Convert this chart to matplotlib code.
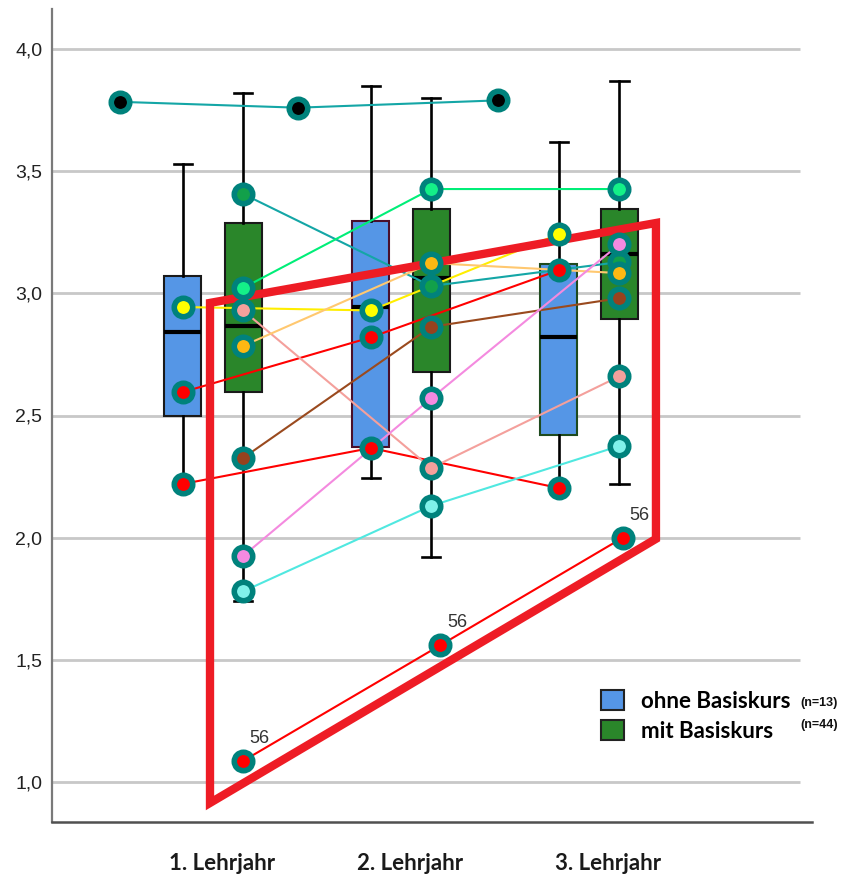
import matplotlib.pyplot as plt
from matplotlib.patches import Patch, Polygon

# Box statistics per year: (whislo, q1, median, q3, whishi)
years = ['1. Lehrjahr', '2. Lehrjahr', '3. Lehrjahr']
ohne_stats = [(2.22, 2.50, 2.842, 3.071, 3.53),
              (2.244, 2.371, 2.944, 3.296, 3.85),
              (2.20, 2.42, 2.82, 3.12, 3.62)]
mit_stats = [(1.74, 2.596, 2.868, 3.29, 3.82),
             (1.92, 2.68, 3.063, 3.345, 3.80),
             (2.22, 2.895, 3.16, 3.345, 3.87)]

# Individual learners over the three years
ohne_yellow = [2.944, 2.93, 3.243]
ohne_red_a = [2.596, 2.82, 3.095]
ohne_red_b = [2.22, 2.367, 2.203]

mit_teal = [3.407, 3.03, 3.128]
mit_lime = [3.022, 3.427, 3.427]
mit_salmon = [2.93, 2.285, 2.66]
mit_orange = [2.785, 3.124, 3.083]
mit_brown = [2.326, 2.863, 2.98]
mit_violet = [1.925, 2.57, 3.20]
mit_cyan = [1.78, 2.13, 2.375]
case56 = [1.086, 1.56, 2.0]
case56_x = [1.16, 2.21, 3.18]

top_case = [3.784, 3.76, 3.79]
top_case_x = [0.505, 1.452, 2.516]

# Outline around the rising group
frame_x = [0.984, 0.984, 3.356, 3.356]
frame_y = [2.961, 0.914, 1.995, 3.288]

blue = '#5596E6'
green = '#2A862A'
teal = '#00827C'

fig = plt.figure(figsize=(8.46, 8.77), dpi=100)
ax = fig.add_axes([52 / 846, 55 / 877, 760 / 846, 813 / 877])
ax.set_xlim(0.1436, 4.186)
ax.set_ylim(0.836, 4.164)

yt = [1.0, 1.5, 2.0, 2.5, 3.0, 3.5, 4.0]
ax.hlines(yt, 0.1436, 4.12, color='#C8C8C8', lw=2, zorder=0)
ax.set_yticks(yt)
ax.set_yticklabels([f'{v:.1f}'.replace('.', ',') for v in yt],
                   family='Liberation Sans', fontsize=14, color='#222222')
ax.tick_params(axis='y', length=0, pad=7)

for s in ['top', 'right']:
    ax.spines[s].set_visible(False)
ax.spines['left'].set_color('#7A7A7A')
ax.spines['left'].set_linewidth(1.6)
ax.spines['bottom'].set_color('#505050')
ax.spines['bottom'].set_linewidth(1.8)

d = 0.16
pos_ohne = [i + 1 - d for i in range(3)]
pos_mit = [i + 1 + d for i in range(3)]


def to_bxp(stats):
    return [dict(whislo=a, q1=b, med=c, q3=e, whishi=f) for a, b, c, e, f in stats]


common = dict(widths=0.197, patch_artist=True, showfliers=False,
              medianprops=dict(color='black', lw=3),
              whiskerprops=dict(color='black', lw=1.9),
              capprops=dict(color='black', lw=1.9),
              capwidths=0.1, manage_ticks=False)
b1 = ax.bxp(to_bxp(ohne_stats), positions=pos_ohne,
            boxprops=dict(facecolor=blue, edgecolor='#1a1a1a', lw=1.5), **common)
b2 = ax.bxp(to_bxp(mit_stats), positions=pos_mit,
            boxprops=dict(facecolor=green, edgecolor='#1a1a1a', lw=1.5), **common)
b1['boxes'][1].set_edgecolor('#4A0F2A')
b1['boxes'][2].set_edgecolor('#1E4A1E')
for k in b1:
    for art in b1[k] + b2[k]:
        art.set_zorder(2)

ax.set_xticks([1.05, 2.05, 3.10])
ax.set_xticklabels(years, family='Lato', fontweight='bold', fontsize=16, color='#1a1a1a')
ax.tick_params(axis='x', length=0, pad=22)

series = [
    (pos_ohne, ohne_yellow, '#FFEE00', '#FFFF00'),
    (pos_ohne, ohne_red_a, '#FF0000', '#FF0000'),
    (pos_ohne, ohne_red_b, '#FF0000', '#FF0000'),
    (pos_mit, mit_teal, '#14A6A6', '#12A04A'),
    (pos_mit, mit_lime, '#00EE78', '#14F088'),
    (pos_mit, mit_salmon, '#F4A09C', '#F4A09C'),
    (pos_mit, mit_orange, '#FFC870', '#FDB813'),
    (pos_mit, mit_brown, '#9A4A1E', '#96421E'),
    (pos_mit, mit_violet, '#F48ADF', '#F48AE0'),
    (pos_mit, mit_cyan, '#50E8E0', '#80F2EA'),
    (case56_x, case56, '#FF0000', '#FF0000'),
    (top_case_x, top_case, '#14A6A6', '#000000'),
]

for xs, ys, lc, mc in series:
    ax.plot(xs, ys, color=lc, lw=1.5, zorder=3)

ax.add_patch(Polygon(list(zip(frame_x, frame_y)), closed=True, fill=False,
                     edgecolor='#EE1C25', lw=6, joinstyle='miter', zorder=4))

for xs, ys, lc, mc in series:
    ax.plot(xs, ys, ls='none', marker='o', ms=13.3, mew=4, mec=teal, mfc=mc, zorder=5)

for x, y in zip(case56_x, case56):
    ax.annotate('56', (x, y), xytext=(12, 16), textcoords='offset points',
                ha='center', va='center', fontsize=13, family='Liberation Sans',
                color='#333333', zorder=6)

handles = [Patch(facecolor=blue, edgecolor='#222222', lw=1.5),
           Patch(facecolor=green, edgecolor='#222222', lw=1.5)]
ax.legend(handles, ['ohne Basiskurs', 'mit Basiskurs'], loc='upper left',
          bbox_to_anchor=(601 / 846, 1 - 690 / 877), bbox_transform=fig.transFigure,
          frameon=False, prop=dict(family='Lato', weight='bold', size=16),
          handlelength=1.04, handleheight=1.04, handletextpad=0.75,
          labelspacing=0.36, borderpad=0, borderaxespad=0)
fig.text(819 / 846, 1 - 703 / 877, '(n=13)', ha='center', va='center',
         family='Liberation Sans', fontweight='bold', fontsize=9, color='#111111')
fig.text(819 / 846, 1 - 725 / 877, '(n=44)', ha='center', va='center',
         family='Liberation Sans', fontweight='bold', fontsize=9, color='#111111')

fig.savefig('out.png', dpi=100)
